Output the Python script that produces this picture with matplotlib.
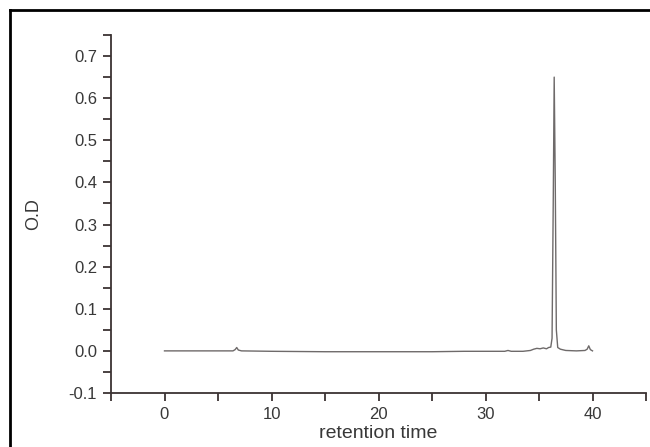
import matplotlib.pyplot as plt
from matplotlib.lines import Line2D
from matplotlib.ticker import MultipleLocator

plt.rcParams["font.family"] = ["Liberation Sans", "DejaVu Sans"]

# chromatogram trace
time = [0.0, 3.0, 6.4, 6.6, 6.75, 6.9, 7.2, 10.0, 15.0, 20.0, 25.0, 28.0,
        30.0, 31.8, 32.1, 32.4, 33.5, 34.2, 34.5, 34.8, 35.1, 35.4, 35.7,
        35.9, 36.1, 36.22, 36.33, 36.42, 36.52, 36.62, 36.75, 37.0, 37.5,
        38.5, 39.3, 39.5, 39.65, 39.8, 40.0]
od = [0.0, 0.0, 0.0, 0.003, 0.008, 0.002, 0.0, -0.001, -0.002, -0.002,
      -0.002, -0.001, -0.001, -0.001, 0.001, -0.001, -0.001, 0.001, 0.004,
      0.006, 0.005, 0.007, 0.005, 0.008, 0.009, 0.03, 0.35, 0.65, 0.4,
      0.05, 0.008, 0.004, 0.001, 0.0, 0.001, 0.004, 0.012, 0.003, 0.0]

axis_col = "#3b3333"
text_col = "#383838"

fig = plt.figure(figsize=(6.5, 4.47), dpi=100)
ax = fig.add_axes([111 / 650, 1 - 393 / 447, (646 - 111) / 650, (393 - 35) / 447])

ax.plot(time, od, color="#6e6a6a", lw=1.0)

ax.set_xlim(-5, 45)
ax.set_ylim(-0.1, 0.75)
ax.xaxis.set_major_locator(MultipleLocator(10))
ax.xaxis.set_minor_locator(MultipleLocator(5))
ax.yaxis.set_major_locator(MultipleLocator(0.1))
ax.yaxis.set_minor_locator(MultipleLocator(0.05))
ax.yaxis.set_major_formatter(lambda v, p: f"{v:.1f}")

for s in ["top", "right"]:
    ax.spines[s].set_visible(False)
for s in ["left", "bottom"]:
    ax.spines[s].set_color(axis_col)
    ax.spines[s].set_linewidth(1.3)

ax.tick_params(which="both", direction="out", color=axis_col, width=1.3,
               length=6, labelsize=12, labelcolor=text_col)
ax.tick_params(axis="x", pad=4)
ax.tick_params(axis="y", pad=4)

ax.set_xlabel("retention time", fontsize=14, color=text_col, labelpad=2)
ax.set_ylabel("O.D", fontsize=13, color=text_col, labelpad=19)

# scan frame (only top and left edges are in view)
fig.add_artist(Line2D([10 / 650, 1.0], [1 - 10 / 447, 1 - 10 / 447],
                      transform=fig.transFigure, color="black", lw=2))
fig.add_artist(Line2D([10 / 650, 10 / 650], [0.0, 1 - 10 / 447],
                      transform=fig.transFigure, color="black", lw=2))

fig.savefig("out.png", dpi=100)
